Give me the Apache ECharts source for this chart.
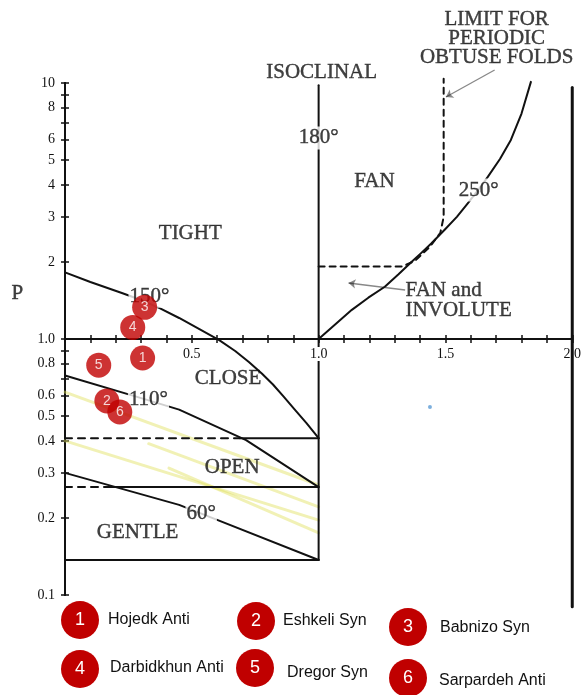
<!DOCTYPE html>
<html><head><meta charset="utf-8">
<script src="https://cdn.jsdelivr.net/npm/echarts@6/dist/echarts.min.js"></script>
<style>html,body{margin:0;padding:0;background:#fff}#c{width:584px;height:695px}</style>
</head><body><div id="c"></div>
<script>
// ---- axis ticks / labels ----
const yTickValues = [0.1,0.2,0.3,0.4,0.5,0.6,0.7,0.8,0.9,1,2,3,4,5,6,7,8,9,10];
const yLabelValues = [0.1,0.2,0.3,0.4,0.5,0.6,0.8,1,2,3,4,5,6,8,10];
const yLabelTexts  = ['0.1','0.2','0.3','0.4','0.5','0.6','0.8','1.0','2','3','4','5','6','8','10'];
const xLabelValues = [0.5,1.0,1.5,2.0];
const xLabelTexts  = ['0.5','1.0','1.5','2.0'];

// ---- fold class boundary curves [x, P] ----
const curve150 = [[0,1.82],[0.1,1.67],[0.227,1.51],[0.30,1.42],[0.373,1.32],[0.45,1.208],[0.53,1.094],[0.608,0.99],[0.671,0.898],[0.725,0.813],[0.776,0.733],[0.820,0.664],[0.863,0.594],[0.906,0.530],[0.953,0.468],[1.0,0.41]];
const curve110 = [[0,0.72],[0.294,0.59],[0.45,0.53],[0.714,0.403],[1.0,0.264]];
const curve60  = [[0,0.30],[0.45,0.225],[0.58,0.20],[1.0,0.137]];
const curve250 = [[1.0,1.0],[1.065,1.14],[1.131,1.30],[1.196,1.45],[1.261,1.60],[1.315,1.79],[1.366,2.0],[1.405,2.17],[1.444,2.36],[1.497,2.67],[1.545,3.0],[1.588,3.39],[1.63,3.83],[1.667,4.30],[1.715,5.05],[1.758,5.99],[1.80,7.6],[1.837,10.1]];
const limitDashed = [[1.0,1.92],[1.33,1.92],[1.38,2.02],[1.44,2.3],[1.48,2.6],[1.493,3.0],[1.493,10.4]];
const line040Dashed = [[0,0.41],[0.69,0.41]];
const line040Solid  = [[0.69,0.41],[1.0,0.41]];
const line026Dashed = [[0,0.264],[0.16,0.264]];
const line026Solid  = [[0.16,0.264],[1.0,0.264]];
const line014Solid  = [[0,0.137],[1.0,0.137]];
const isoclinal180  = [[1.0,0.137],[1.0,9.8]];
const rightBorder   = [[2.0,0.09],[2.0,9.6]];
const yellowLines = [
  [[0,0.62],[1.0,0.269]],
  [[0,0.40],[1.0,0.196]],
  [[0.33,0.39],[1.0,0.221]],
  [[0.41,0.313],[1.0,0.175]]
];
const arrows = [
  [[1.694,11.24],[1.502,8.82]],
  [[1.341,1.554],[1.118,1.655]]
];

// ---- measured folds ----
const foldIds   = ['1','2','3','4','5','6'];
const foldNames = ['Hojedk Anti','Eshkeli Syn','Babnizo Syn','Darbidkhun Anti','Dregor Syn','Sarpardeh Anti'];
const foldX     = [0.306,0.165,0.314,0.267,0.133,0.216];
const foldP     = [0.843,0.573,1.33,1.11,0.79,0.519];
const strayDot  = [[1.439,0.543]];

// ---- text annotations [x, P, text] ----
const regionLabels = [
  [1.012,10.96,'ISOCLINAL'],
  [1.22,4.14,'FAN'],
  [0.494,2.59,'TIGHT'],
  [0.643,0.704,'CLOSE'],
  [0.659,0.316,'OPEN'],
  [0.286,0.175,'GENTLE'],
  [1.702,14.9,'LIMIT FOR\nPERIODIC\nOBTUSE FOLDS']
];
const leftLabels = [[1.341,1.42,'FAN and\nINVOLUTE']];
const angleLabels = [
  [1.0,6.1,'180°'],
  [1.631,3.82,'250°'],
  [0.333,1.47,'150°'],
  [0.329,0.583,'110°'],
  [0.537,0.209,'60°']
];
const axisTitle = [[-0.188,1.5,'P']];

const SERIF = '"Liberation Serif","Times New Roman",serif';
const SANS = '"Liberation Sans",Arial,sans-serif';
const INK = '#111';

function lineSeries(data, opts) {
  opts = opts || {};
  return {
    type:'line', data:data, symbol:'none', silent:true, animation:false,
    smooth:false, clip:false, z: opts.z || 2,
    lineStyle:{color: opts.color || INK, width: opts.width || 2, type: opts.type || 'solid', join:'round', cap:'round'}
  };
}
function textSeries(items, labelOpts, z) {
  return {
    type:'scatter', symbolSize:1, clip:false, silent:true, animation:false, z:z,
    itemStyle:{color:'rgba(0,0,0,0)'},
    data: items.map(d => ({value:[d[0], d[1]], label:{formatter:d[2]}})),
    label: Object.assign({show:true, position:'inside', color:INK, fontFamily:SERIF, fontSize:21,
      textBorderColor:INK, textBorderWidth:0.4}, labelOpts)
  };
}

const chart = echarts.init(document.getElementById('c'), null, {renderer:'canvas'});

const series = [];
yellowLines.forEach(l => series.push(lineSeries(l, {color:'rgba(225,225,90,0.45)', width:3, z:1})));
series.push(lineSeries(curve150));
series.push(lineSeries(curve110));
series.push(lineSeries(curve60));
series.push(lineSeries(curve250));
series.push(lineSeries(limitDashed, {type:[6,5]}));
series.push(lineSeries(line040Dashed, {type:[7,6]}));
series.push(lineSeries(line040Solid));
series.push(lineSeries(line026Dashed, {type:[7,6]}));
series.push(lineSeries(line026Solid));
series.push(lineSeries(line014Solid));
series.push(lineSeries(isoclinal180));
series.push(lineSeries(rightBorder, {width:3}));
series.push({
  type:'lines', coordinateSystem:'cartesian2d', silent:true, animation:false, clip:false, z:3,
  symbol:['none','arrow'], symbolSize:7,
  lineStyle:{color:INK, width:1.3},
  data: arrows.map(a => ({coords:a}))
});
series.push(textSeries(regionLabels, {lineHeight:19}, 3));
series.push(textSeries(leftLabels, {position:'right', distance:0, align:'left', lineHeight:20}, 3));
series.push(textSeries(angleLabels, {backgroundColor:'#fff', padding:[1,1]}, 4));
series.push(textSeries(axisTitle, {fontSize:21}, 3));
series.push({
  type:'scatter', silent:true, animation:false, z:6, clip:false,
  symbolSize:25, itemStyle:{color:'#c00000'},
  data: foldIds.map((id,i) => ({value:[foldX[i], foldP[i]], name:foldNames[i], label:{formatter:id}})),
  label:{show:true, position:'inside', color:'#fff', fontFamily:SANS, fontSize:14}
});
series.push({
  type:'scatter', silent:true, animation:false, z:6,
  symbolSize:4, itemStyle:{color:'#5b9bd5'}, data:strayDot
});

// legend (bottom): circles with numbers + names
const legendCx = [80,256,408,80,255,408];
const legendCy = [620,621,627,669,668,678];
const legendTx = [108,283,440,110,287,439];
const legendTy = [620,621,628,668,673,681];
const graphic = [];
foldNames.forEach((n,i) => {
  graphic.push({type:'circle', shape:{cx:legendCx[i], cy:legendCy[i], r:19}, style:{fill:'#c00000'}, silent:true});
  graphic.push({type:'text', x:legendCx[i], y:legendCy[i], style:{text:foldIds[i], fill:'#fff', font:'18px '+SANS, align:'center', verticalAlign:'middle'}, silent:true});
  graphic.push({type:'text', x:legendTx[i], y:legendTy[i], style:{text:n, fill:'#111', font:'16px '+SANS, align:'left', verticalAlign:'middle'}, silent:true});
});

function fmtX(v) {
  for (let i=0;i<xLabelValues.length;i++) if (Math.abs(v-xLabelValues[i])<1e-6) return (xLabelTexts[i]==='1.0') ? '{w|'+xLabelTexts[i]+'}' : xLabelTexts[i];
  return '';
}
function fmtY(v) {
  for (let i=0;i<yLabelValues.length;i++) if (Math.abs(v-yLabelValues[i])<1e-6*yLabelValues[i]) return yLabelTexts[i];
  return '';
}
const GRID_H = 512;
const xBase = {
  type:'value', min:0, max:2, interval:0.1, position:'bottom', offset:-GRID_H/2, z:4,
  axisLine:{show:true, onZero:false, lineStyle:{color:INK, width:2}},
  splitLine:{show:false}
};
const yBase = {
  type:'log', logBase:10, min:0.1, max:10, position:'left',
  axisLine:{show:true, onZero:false, lineStyle:{color:INK, width:2}},
  splitLine:{show:false}
};

chart.setOption({
  animation:false,
  backgroundColor:'#fff',
  grid:{left:65, top:83, width:510, height:GRID_H, containLabel:false},
  xAxis:[
    Object.assign({}, xBase, {
      axisTick:{show:true, length:4, lineStyle:{color:INK, width:1.5}},
      axisLabel:{show:true, margin:8, formatter:fmtX, color:INK, fontFamily:SERIF, fontSize:14,
        rich:{w:{backgroundColor:'#fff', padding:[0,1], fontFamily:SERIF, fontSize:14, color:INK}}}
    }),
    Object.assign({}, xBase, {
      axisTick:{show:true, inside:true, length:4, lineStyle:{color:INK, width:1.5}},
      axisLabel:{show:false}
    })
  ],
  yAxis:[
    Object.assign({}, yBase, {
      axisTick:{show:true, length:4, customValues:yTickValues, lineStyle:{color:INK, width:1.5}},
      axisLabel:{show:true, margin:10, customValues:yLabelValues, formatter:fmtY, color:INK, fontFamily:SERIF, fontSize:14}
    }),
    Object.assign({}, yBase, {
      axisTick:{show:true, inside:true, length:4, customValues:yTickValues, lineStyle:{color:INK, width:1.5}},
      axisLabel:{show:false}
    })
  ],
  graphic: graphic,
  series: series
});
</script></body></html>
